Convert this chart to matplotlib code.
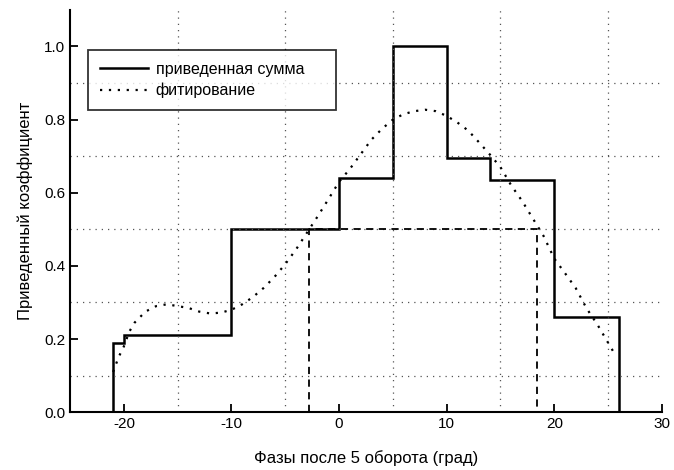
import matplotlib
matplotlib.use("Agg")
import matplotlib.pyplot as plt

plt.rcParams["font.family"] = ["Liberation Sans", "DejaVu Sans"]
plt.rcParams["axes.unicode_minus"] = False

# step outline (приведенная сумма)
step_edges = [-21, -20, -10, 0, 5, 10, 14, 20, 26]
step_vals = [0.19, 0.21, 0.50, 0.64, 1.00, 0.695, 0.635, 0.26]

# fitted curve (фитирование)
fit_x = [-21, -20.5, -20, -19.5, -19, -18, -17, -16, -15, -14, -13, -12, -11, -10,
         -9, -8, -7, -6, -5, -4, -3, -2, -1, 0, 1, 2, 3, 4, 5, 6, 7, 8, 9, 10,
         11, 12, 13, 14, 15, 16, 17, 18, 19, 20, 21, 22, 23, 24, 25, 25.6]
fit_y = [0.11, 0.15, 0.18, 0.22, 0.245, 0.275, 0.29, 0.295, 0.29, 0.285, 0.275, 0.27, 0.272, 0.28,
         0.295, 0.315, 0.34, 0.37, 0.405, 0.445, 0.49, 0.535, 0.582, 0.63, 0.665, 0.705, 0.745, 0.775,
         0.80, 0.815, 0.823, 0.827, 0.823, 0.81, 0.792, 0.77, 0.738, 0.705, 0.67, 0.62, 0.578, 0.53,
         0.482, 0.42, 0.38, 0.339, 0.284, 0.24, 0.19, 0.16]

# dashed bracket (half-height width)
dash_x = [-2.8, -2.8, 18.4, 18.4]
dash_y = [0.0, 0.5, 0.5, 0.0]

xticks = [-20, -10, 0, 10, 20, 30]
yticks = [0.0, 0.2, 0.4, 0.6, 0.8, 1.0]
xgrid = [-15, -5, 5, 15, 25]
ygrid = [0.1, 0.3, 0.5, 0.7, 0.9]

fig = plt.figure(figsize=(6.74, 4.70), dpi=100)
ax = fig.add_axes([0.104, 0.123, 0.878, 0.856])

ax.stairs(step_vals, step_edges, baseline=0, color="black", lw=1.8, label="приведенная сумма")
ax.plot(fit_x, fit_y, color="black", lw=1.6, ls=(0, (1, 3)), label="фитирование")
ax.plot(dash_x, dash_y, color="black", lw=1.3, ls=(0, (4, 3)))

ax.set_xlim(-25, 30)
ax.set_ylim(0, 1.1)
ax.set_xticks(xticks)
ax.set_yticks(yticks)
ax.set_yticklabels(["%.1f" % v for v in yticks])
ax.set_xticks(xgrid, minor=True)
ax.set_yticks(ygrid, minor=True)
ax.grid(which="minor", ls=(0, (1, 4)), color="#555555", lw=0.9)
ax.tick_params(which="major", direction="in", length=6, width=1.3, labelsize=11)
ax.tick_params(which="minor", length=0)
for s in ("top", "right"):
    ax.spines[s].set_visible(False)
for s in ("left", "bottom"):
    ax.spines[s].set_linewidth(1.5)

ax.set_xlabel("Фазы после 5 оборота (град)", fontsize=12, labelpad=14)
ax.set_ylabel("Приведенный коэффициент", fontsize=12, labelpad=8)

leg = ax.legend(loc="upper left", bbox_to_anchor=(0.03, 0.765, 0.42, 0.135), mode="expand",
                fontsize=11.5, frameon=True, fancybox=False, edgecolor="black",
                handlelength=3.0, handletextpad=0.5, borderpad=0.75, borderaxespad=0,
                labelspacing=0.35)
leg.get_frame().set_linewidth(1.3)

fig.savefig("out.png", dpi=100)
